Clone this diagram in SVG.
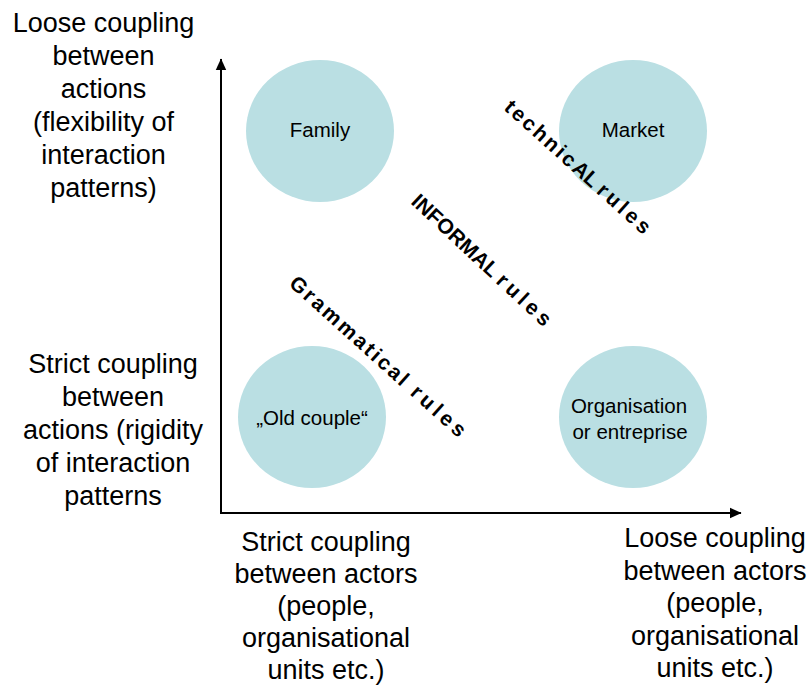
<svg xmlns="http://www.w3.org/2000/svg" width="811" height="685" viewBox="0 0 811 685">
  <defs>
    <marker id="arrow" markerUnits="userSpaceOnUse" markerWidth="12" markerHeight="12" viewBox="0 0 10 10" refX="9.5" refY="5" orient="auto">
      <path d="M0,0.5 L10,5 L0,9.5 Z" fill="#000"/>
    </marker>
    <style>
      .lbl { font-family: "Liberation Sans", Arial, Helvetica, sans-serif; font-size: 27px; fill: #000; text-anchor: middle; }
      .node-shape { fill: #badfe3; }
      .node-text { font-family: "Liberation Sans", Arial, Helvetica, sans-serif; font-size: 20.5px; fill: #000; text-anchor: middle; }
      .rule { font-family: "Liberation Sans", Arial, Helvetica, sans-serif; font-size: 21px; font-weight: bold; fill: #000; }
      .axis { stroke: #000; stroke-width: 2; fill: none; }
    </style>
  </defs>

  <rect width="811" height="685" fill="#fff"/>

  <!-- nodes -->
  <g id="family">
    <ellipse class="node-shape" cx="320" cy="131" rx="74" ry="71"/>
    <text class="node-text" x="320" y="137">Family</text>
  </g>
  <g id="market">
    <ellipse class="node-shape" cx="633" cy="131" rx="74" ry="71"/>
    <text class="node-text" x="633" y="137">Market</text>
  </g>
  <g id="old-couple">
    <ellipse class="node-shape" cx="312" cy="417" rx="74" ry="71"/>
    <text class="node-text" x="312" y="425">„Old couple“</text>
  </g>
  <g id="organisation">
    <ellipse class="node-shape" cx="633" cy="417" rx="74" ry="71"/>
    <text class="node-text" x="629" y="413">Organisation</text>
    <text class="node-text" x="630" y="439">or entreprise</text>
  </g>

  <!-- axes -->
  <g id="connectors">
    <line class="axis" x1="221" y1="513" x2="221" y2="59" marker-end="url(#arrow)"/>
    <line class="axis" x1="220" y1="513" x2="741" y2="513" marker-end="url(#arrow)"/>
  </g>

  <!-- diagonal rule labels -->
  <g id="technical-rules">
    <text class="rule" transform="translate(503,109) rotate(42)"><tspan letter-spacing="2.5">technic</tspan><tspan letter-spacing="0">AL </tspan><tspan letter-spacing="3.5">rules</tspan></text>
  </g>
  <g id="informal-rules">
    <text class="rule" transform="translate(410,203) rotate(43)"><tspan letter-spacing="0">INFORMAL </tspan><tspan letter-spacing="4">rules</tspan></text>
  </g>
  <g id="grammatical-rules">
    <text class="rule" transform="translate(288,285) rotate(42)"><tspan letter-spacing="2.5">Grammatical </tspan><tspan letter-spacing="4">rules</tspan></text>
  </g>

  <!-- axis captions -->
  <g id="y-high">
    <text class="lbl" x="103.5" y="32">Loose coupling</text>
    <text class="lbl" x="103.5" y="65">between</text>
    <text class="lbl" x="103.5" y="98">actions</text>
    <text class="lbl" x="103.5" y="131">(flexibility of</text>
    <text class="lbl" x="103.5" y="164">interaction</text>
    <text class="lbl" x="103.5" y="197">patterns)</text>
  </g>
  <g id="y-low">
    <text class="lbl" x="113" y="373">Strict coupling</text>
    <text class="lbl" x="113" y="406">between</text>
    <text class="lbl" x="113" y="439">actions (rigidity</text>
    <text class="lbl" x="113" y="472">of interaction</text>
    <text class="lbl" x="113" y="505">patterns</text>
  </g>
  <g id="x-low">
    <text class="lbl" x="326" y="551">Strict coupling</text>
    <text class="lbl" x="326" y="583">between actors</text>
    <text class="lbl" x="326" y="615">(people,</text>
    <text class="lbl" x="326" y="647">organisational</text>
    <text class="lbl" x="326" y="679">units etc.)</text>
  </g>
  <g id="x-high">
    <text class="lbl" x="715" y="547">Loose coupling</text>
    <text class="lbl" x="715" y="580">between actors</text>
    <text class="lbl" x="715" y="612">(people,</text>
    <text class="lbl" x="715" y="645">organisational</text>
    <text class="lbl" x="715" y="677">units etc.)</text>
  </g>
</svg>
